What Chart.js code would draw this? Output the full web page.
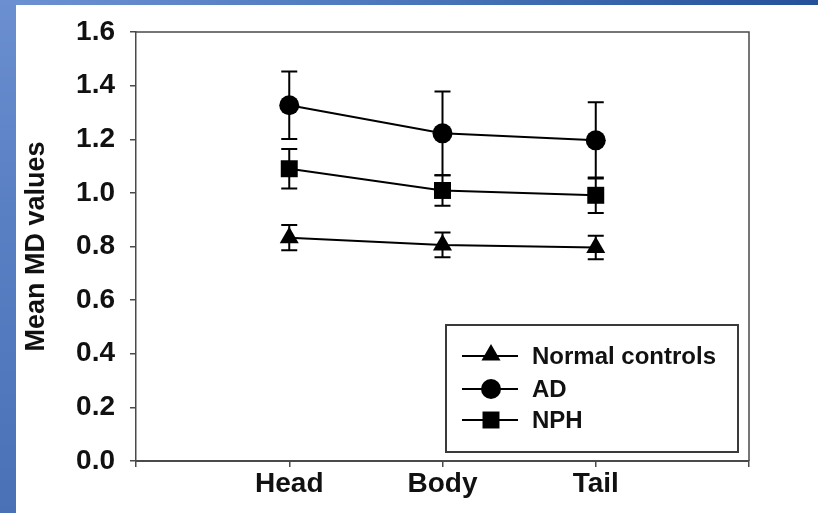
<!DOCTYPE html>
<html>
<head>
<meta charset="utf-8">
<script src="https://cdn.jsdelivr.net/npm/chart.js@4/dist/chart.umd.min.js"></script>
<style>
  html, body { margin: 0; padding: 0; background: #ffffff; overflow: hidden; }
  #wrap { position: relative; width: 818px; height: 513px; }
  #topband { position: absolute; left: 0; top: 0; width: 818px; height: 5px;
    background: linear-gradient(to right, #6d92d2, #4e79be 45%, #24519a); }
  #leftband { position: absolute; left: 0; top: 0; width: 16px; height: 513px;
    background: linear-gradient(to bottom, #6b8fd0, #5a80c4 40%, #4a70b6); }
  canvas { position: absolute; left: 0; top: 0; }
</style>
</head>
<body>
<div id="wrap">
  <div id="topband"></div>
  <div id="leftband"></div>
  <canvas id="c" width="818" height="513"></canvas>
</div>
<script>
// ---- data ----
const categories = ['Head', 'Body', 'Tail'];
const xPositions = [1, 2, 3];
const seriesNames = ['Normal controls', 'AD', 'NPH'];
const normalValues = [0.833, 0.806, 0.796];
const normalErrors = [0.047, 0.046, 0.044];
const adValues = [1.327, 1.222, 1.196];
const adErrors = [0.126, 0.156, 0.142];
const nphValues = [1.090, 1.009, 0.991];
const nphErrors = [0.074, 0.057, 0.066];
const yTickValues = [0, 0.2, 0.4, 0.6, 0.8, 1.0, 1.2, 1.4, 1.6];

const FONT = "'Liberation Sans', Arial, Helvetica, sans-serif";
const AXIS_COLOR = '#4a4a4a';

function pts(vals) { return vals.map((v, i) => ({ x: xPositions[i], y: v })); }

const styles = [
  { pointStyle: 'triangle', radius: 11 },
  { pointStyle: 'circle', radius: 10 },
  { pointStyle: 'rect', radius: 12 }
];
const allValues = [normalValues, adValues, nphValues];
const allErrors = [normalErrors, adErrors, nphErrors];

const datasets = allValues.map((vals, i) => ({
  label: seriesNames[i],
  data: pts(vals),
  errors: allErrors[i],
  borderColor: '#000',
  backgroundColor: '#000',
  borderWidth: 2,
  pointStyle: styles[i].pointStyle,
  pointRadius: styles[i].radius,
  pointHoverRadius: styles[i].radius,
  pointBorderWidth: 0,
  pointBackgroundColor: '#000',
  showLine: true,
  tension: 0
}));

const errorBars = {
  id: 'errorBars',
  beforeDatasetsDraw(chart) {
    const ctx = chart.ctx;
    const xs = chart.scales.x, ys = chart.scales.y;
    ctx.save();
    ctx.strokeStyle = '#000';
    ctx.lineWidth = 2;
    chart.data.datasets.forEach(ds => {
      ds.data.forEach((p, j) => {
        const e = ds.errors[j];
        const px = xs.getPixelForValue(p.x);
        const top = ys.getPixelForValue(p.y + e);
        const bot = ys.getPixelForValue(p.y - e);
        const cap = 8;
        ctx.beginPath();
        ctx.moveTo(px, top); ctx.lineTo(px, bot);
        ctx.moveTo(px - cap, top); ctx.lineTo(px + cap, top);
        ctx.moveTo(px - cap, bot); ctx.lineTo(px + cap, bot);
        ctx.stroke();
      });
    });
    ctx.restore();
  }
};

function drawMarker(ctx, style, r, x, y) {
  ctx.beginPath();
  if (style === 'circle') {
    ctx.arc(x, y, r, 0, Math.PI * 2);
  } else if (style === 'rect') {
    const s = Math.SQRT1_2 * r;
    ctx.rect(x - s, y - s, 2 * s, 2 * s);
  } else {
    const xo = Math.cos(Math.PI / 6) * r;
    ctx.moveTo(x, y - r);
    ctx.lineTo(x + xo, y + r / 2);
    ctx.lineTo(x - xo, y + r / 2);
    ctx.closePath();
  }
  ctx.fill();
}

const frameAndLegend = {
  id: 'frameAndLegend',
  afterDraw(chart) {
    const ctx = chart.ctx;
    const a = chart.chartArea;
    ctx.save();
    // top and right frame lines
    ctx.strokeStyle = AXIS_COLOR;
    ctx.lineWidth = 1.5;
    ctx.beginPath();
    ctx.moveTo(a.left, a.top); ctx.lineTo(a.right, a.top); ctx.lineTo(a.right, a.bottom);
    ctx.stroke();
    // legend box
    const bx = 446, by = 325, bw = 292, bh = 127;
    ctx.lineWidth = 2;
    ctx.strokeStyle = '#3a3a3a';
    ctx.strokeRect(bx, by, bw, bh);
    const rows = [356, 389, 420];
    ctx.font = 'bold 24px ' + FONT;
    ctx.textBaseline = 'middle';
    ctx.textAlign = 'left';
    chart.data.datasets.forEach((ds, i) => {
      const y = rows[i];
      ctx.strokeStyle = '#000';
      ctx.lineWidth = 2;
      ctx.beginPath(); ctx.moveTo(462, y); ctx.lineTo(518, y); ctx.stroke();
      ctx.fillStyle = '#000';
      const r = ds.pointStyle === 'circle' ? 10 : (ds.pointStyle === 'rect' ? 12 : 11);
      drawMarker(ctx, ds.pointStyle, r, 491, y + (ds.pointStyle === 'triangle' ? -1 : 0));
      ctx.fillStyle = '#111';
      ctx.fillText(ds.label, 532, y + 1);
    });
    ctx.restore();
  }
};

new Chart(document.getElementById('c'), {
  type: 'scatter',
  data: { datasets },
  options: {
    responsive: false,
    animation: false,
    devicePixelRatio: 1,
    layout: { padding: { top: 32, right: 69, left: 0, bottom: 0 } },
    plugins: { legend: { display: false }, tooltip: { enabled: false } },
    scales: {
      x: {
        type: 'linear',
        min: 0, max: 4,
        afterFit(s) { s.height = 52; },
        afterBuildTicks(s) { s.ticks = [0, 1, 2, 3, 4].map(v => ({ value: v })); },
        ticks: {
          autoSkip: false,
          maxRotation: 0,
          padding: 0,
          color: '#111',
          font: { family: FONT, size: 28, weight: 'bold' },
          callback: v => (v >= 1 && v <= 3) ? categories[v - 1] : ''
        },
        grid: { drawOnChartArea: false, drawTicks: true, tickLength: 6, color: AXIS_COLOR, lineWidth: 1.5 },
        border: { display: true, color: AXIS_COLOR, width: 2 }
      },
      y: {
        type: 'linear',
        min: 0, max: 1.6,
        afterFit(s) { s.width = 136; },
        afterBuildTicks(s) { s.ticks = yTickValues.map(v => ({ value: v })); },
        ticks: {
          padding: 15,
          color: '#111',
          font: { family: FONT, size: 28, weight: 'bold' },
          callback: v => Number(v).toFixed(1)
        },
        grid: { drawOnChartArea: false, drawTicks: true, tickLength: 6, color: AXIS_COLOR, lineWidth: 1.5 },
        border: { display: true, color: AXIS_COLOR, width: 1.5 },
        title: {
          display: true,
          text: 'Mean MD values',
          color: '#111',
          font: { family: FONT, size: 27, weight: 'bold' },
          padding: { top: 20, bottom: 0 }
        }
      }
    }
  },
  plugins: [errorBars, frameAndLegend]
});
</script>
</body>
</html>
